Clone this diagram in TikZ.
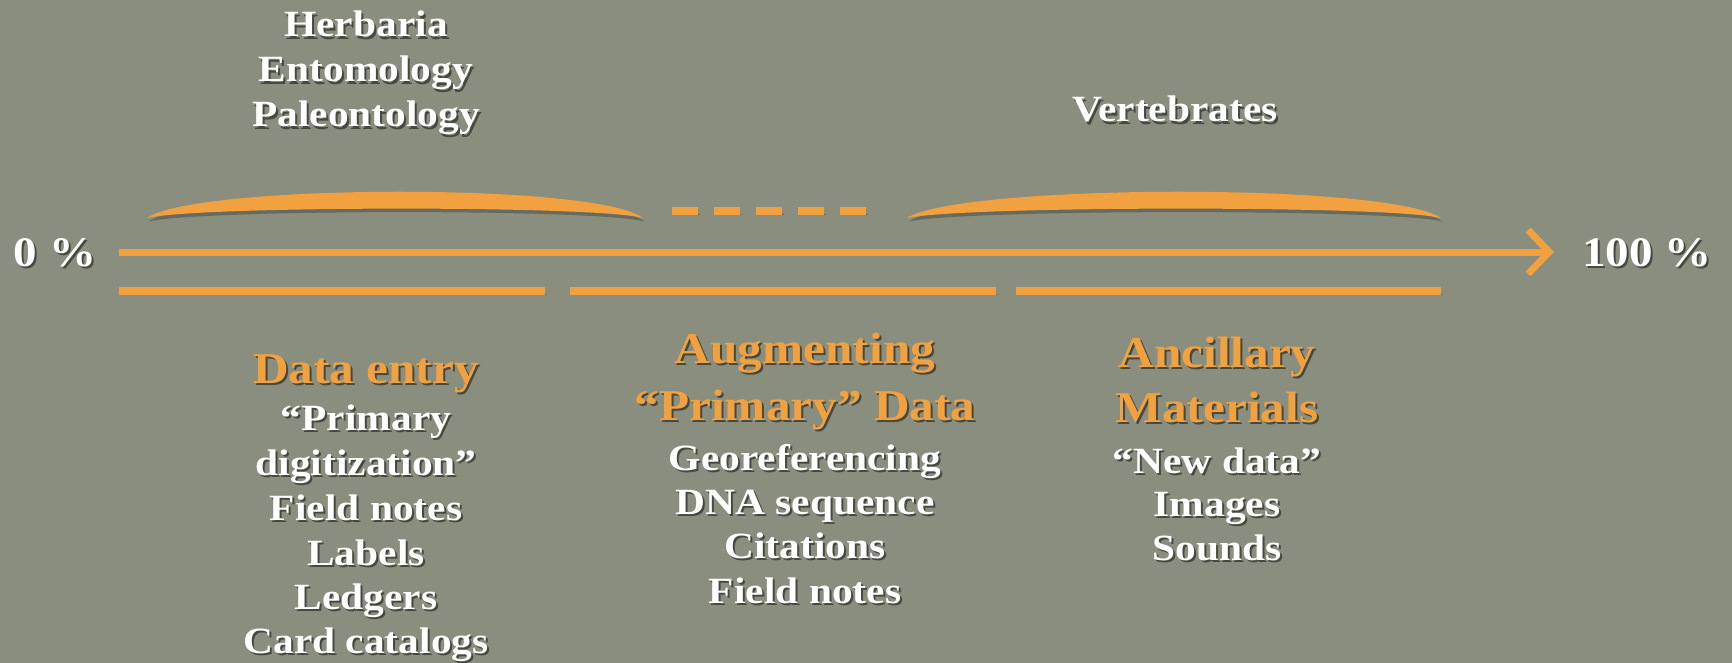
\documentclass[tikz,border=0pt]{standalone}
\usepackage{fontspec}
\setmainfont{Liberation Serif}[FakeStretch=1.12]
\usetikzlibrary{arrows.meta}
\definecolor{bg}{RGB}{137,142,127}
\definecolor{org}{RGB}{241,161,64}
\definecolor{shd}{RGB}{70,73,64}
\newcommand\shd[1]{\rlap{\kern2pt\raisebox{-2.5pt}{\textcolor{shd}{#1}}}#1}
\tikzset{
  wt/.style={anchor=base,inner sep=0pt,text=white,font=\bfseries\fontsize{37}{44}\selectfont},
  hd/.style={anchor=base,inner sep=0pt,text=org,font=\bfseries\fontsize{44}{52}\selectfont},
  pct/.style={anchor=base,inner sep=0pt,text=white,font=\bfseries\fontsize{42}{50}\selectfont},
  bar/.style={draw=org,line width=8pt,preaction={draw=shd,opacity=0.5,transform canvas={shift={(1.5pt,-3.5pt)}}}},
  dbar/.style={draw=org,line width=8pt,dash pattern=on 26pt off 16pt,
    preaction={draw=shd,opacity=0.5,dash pattern=on 26pt off 16pt,transform canvas={shift={(1.5pt,-3.5pt)}}}},
  crescent/.style={fill=org,preaction={fill=shd,opacity=0.5,transform canvas={shift={(1.5pt,-3.5pt)}}}}
}
\begin{document}
\begin{tikzpicture}[x=1pt,y=-1pt]
\fill[bg] (0,0) rectangle (1732,663);
\useasboundingbox (0,0) rectangle (1732,663);

% upper crescents and dashes
\fill[crescent] (147,218) .. controls (195,184) and (595,182) .. (643,218)
   .. controls (595,205) and (195,206) .. cycle;
\fill[crescent] (907,218) .. controls (960,184) and (1388,182) .. (1441,218)
   .. controls (1388,205) and (960,206) .. cycle;
\coordinate (d1) at (672,211);
\coordinate (d2) at (868,211);
\draw[dbar] (d1) -- (d2);

% main axis
\node[pct] (p0) at (55,266) {\shd{0 \%}};
\node[pct] (p100) at (1647,266) {\shd{100 \%}};
\coordinate (a0) at (119,252);
\coordinate (a1) at (1554,252);
\draw[bar,line width=7pt,-{Straight Barb[length=21pt,width=44pt]}] (a0) -- (a1);

% lower bars
\coordinate (b1s) at (119,291); \coordinate (b1e) at (545,291);
\coordinate (b2s) at (570,291); \coordinate (b2e) at (996,291);
\coordinate (b3s) at (1016,291); \coordinate (b3e) at (1441,291);
\draw[bar] (b1s) -- (b1e);
\draw[bar] (b2s) -- (b2e);
\draw[bar] (b3s) -- (b3e);

% top labels
\node[wt] (h1) at (366,37) {\shd{Herbaria}};
\node[wt] (h2) at (366,82) {\shd{Entomology}};
\node[wt] (h3) at (366,127) {\shd{Paleontology}};
\node[wt] (v1) at (1175,122) {\shd{Vertebrates}};

% column 1
\node[hd] (c1h) at (366,383) {\shd{Data entry}};
\node[wt] (c1a) at (366,430) {\shd{“Primary}};
\node[wt] (c1b) at (366,475) {\shd{digitization”}};
\node[wt] (c1c) at (366,520) {\shd{Field notes}};
\node[wt] (c1d) at (366,565) {\shd{Labels}};
\node[wt] (c1e) at (366,609) {\shd{Ledgers}};
\node[wt] (c1f) at (366,653) {\shd{Card catalogs}};

% column 2
\node[hd] (c2h) at (805,363) {\shd{Augmenting}};
\node[hd] (c2i) at (805,420) {\shd{“Primary” Data}};
\node[wt] (c2a) at (805,470) {\shd{Georeferencing}};
\node[wt] (c2b) at (805,514) {\shd{DNA sequence}};
\node[wt] (c2c) at (805,558) {\shd{Citations}};
\node[wt] (c2d) at (805,603) {\shd{Field notes}};

% column 3
\node[hd] (c3h) at (1217,367) {\shd{Ancillary}};
\node[hd] (c3i) at (1217,422) {\shd{Materials}};
\node[wt] (c3a) at (1217,473) {\shd{“New data”}};
\node[wt] (c3b) at (1217,516) {\shd{Images}};
\node[wt] (c3c) at (1217,560) {\shd{Sounds}};
\end{tikzpicture}
\end{document}
